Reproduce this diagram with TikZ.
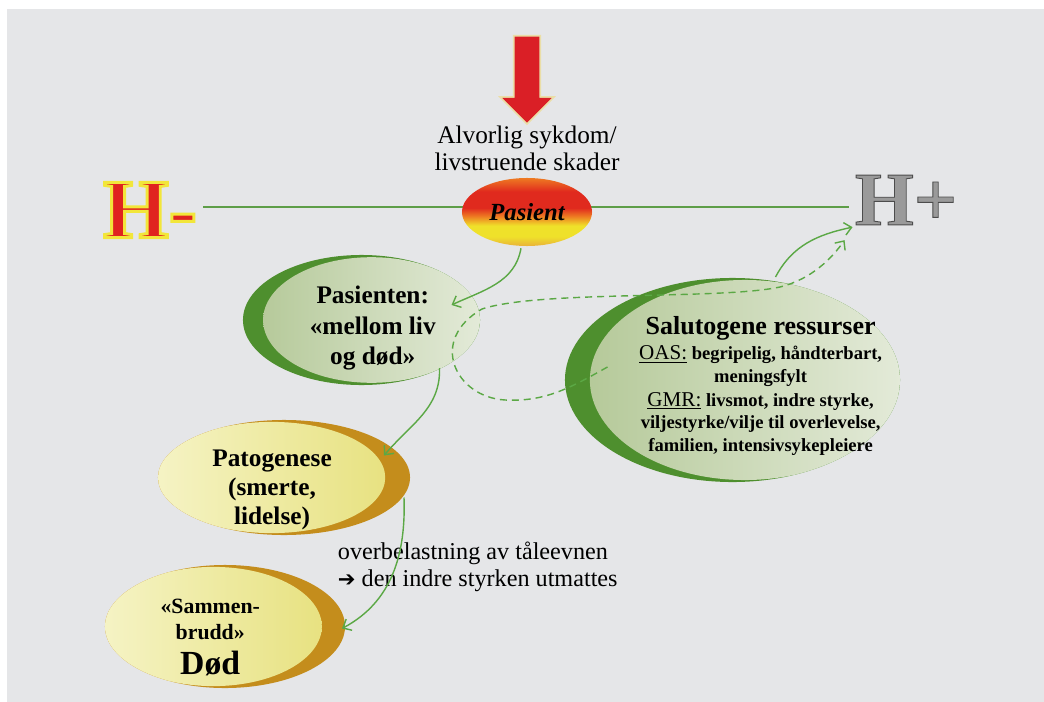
\documentclass[tikz,border=0pt]{standalone}
\usepackage{fontspec}
\setmainfont{Liberation Serif}
\newfontfamily\symfont{DejaVu Sans}
\newfontfamily\hfontA{Liberation Serif}[BoldFeatures={FakeBold=3.5}]
\newfontfamily\hfontB{Liberation Serif}[BoldFeatures={FakeBold=1.2}]
\usetikzlibrary{shapes.geometric,shapes.arrows,arrows.meta,calc}

\definecolor{bgcol}{HTML}{E5E6E8}
\definecolor{flowgreen}{HTML}{5BA845}
\definecolor{axisgreen}{HTML}{5E9E48}
\definecolor{crgreen}{HTML}{4E8F2E}
\definecolor{lgreenA}{HTML}{B2C795}
\definecolor{lgreenB}{HTML}{E3EAD8}
\definecolor{crgold}{HTML}{C48D1C}
\definecolor{lyellowA}{HTML}{F5F3C4}
\definecolor{lyellowB}{HTML}{E6E07A}
\definecolor{hred}{HTML}{E0231F}
\definecolor{hyellow}{HTML}{F2E63A}
\definecolor{hgray}{HTML}{9A9A9A}
\definecolor{pred}{HTML}{E02A1E}
\definecolor{porange}{HTML}{EE7A22}
\definecolor{pyellow}{HTML}{EFE12A}
\definecolor{pgold}{HTML}{E9B23A}
\definecolor{arrowred}{HTML}{DA1F26}

\pgfdeclareverticalshading{pasientfill}{100bp}{color(0bp)=(pgold); color(25bp)=(pgold); color(32bp)=(pyellow); color(40bp)=(pyellow); color(47bp)=(porange); color(53bp)=(pred); color(65bp)=(pred); color(75bp)=(porange); color(100bp)=(porange)}

% text that does not widen the ellipse it sits in
\newcommand{\blobtext}[2]{\makebox[0pt]{\raisebox{#1}[0pt][0pt]{#2}}}

\tikzset{
  flow/.style={draw=flowgreen, line width=1pt, -{Straight Barb[length=5pt,width=9pt]}},
  flowdash/.style={flow, dash pattern=on 5pt off 3.5pt},
  axisline/.style={draw=axisgreen, line width=1pt},
  greenblob/.style n args={3}{ellipse, inner sep=0pt, fill=crgreen,
    path picture={\shade[left color=lgreenA, right color=lgreenB]
      ([xshift=#1]path picture bounding box.center) ellipse[x radius=#2, y radius=#3];}},
  goldblob/.style n args={3}{ellipse, inner sep=0pt, fill=crgold,
    path picture={\shade[left color=lyellowA, right color=lyellowB]
      ([xshift=#1]path picture bounding box.center) ellipse[x radius=#2, y radius=#3];}},
  pasientblob/.style={ellipse, inner sep=0pt, minimum width=3.25cm, minimum height=1.7cm,
    shading=pasientfill, font=\bfseries\itshape\fontsize{17.5}{20}\selectfont},
  redarrow/.style={single arrow, fill=arrowred, inner sep=0.3cm, minimum width=1.225cm,
    single arrow head extend=0.31cm, minimum height=2.15cm, shape border rotate=270,
    preaction={draw=hyellow!80!orange, opacity=.35, line width=2.5pt}},
  bubtext/.style={font=\bfseries\fontsize{18}{21.5}\selectfont},
  plaintext/.style={font=\fontsize{17.2}{19.2}\selectfont}
}

\begin{document}
\begin{tikzpicture}[x=0.025cm, y=-0.025cm]
  \useasboundingbox (0,0) rectangle (1044,702);
  \fill[white] (0,0) rectangle (1044,702);
  \fill[bgcol] (7,9) rectangle (1044,702);

  % H- and H+ at the ends of the axis
  \node[inner sep=0pt, font=\hfontA\bfseries\fontsize{60}{60}\selectfont] (hminus) at (150,210)
    {\pgfsetfillcolor{hred}\pgfsetstrokecolor{hyellow}H-};
  \node[inner sep=0pt, font=\hfontB\bfseries\fontsize{54}{54}\selectfont] (hplus) at (906,200)
    {\pgfsetfillcolor{hgray}\pgfsetstrokecolor{black!70}H+};
  \draw[axisline] ($(hminus.east)+(6,-3)$) -- ($(hplus.west)+(-6,7)$);

  \node[pasientblob] (pasient) at (527,212) {Pasient};
  \node[redarrow, anchor=tip] (hit) at (527,123) {};
  \node[plaintext, align=center, font=\fontsize{18}{19.2}\selectfont] (sykdom) at (527,148)
    {Alvorlig sykdom/\\livstruende skader};

  % bubbles
  \node[greenblob={0.25cm}{2.71cm}{1.57cm}, minimum width=5.925cm, minimum height=3.25cm, bubtext]
    (pas) at (361.5,320)
    {\blobtext{-10pt}{\begin{tabular}{@{\hspace{16pt}}c@{}}Pasienten:\\«mellom liv\\og død»\end{tabular}}};
  \node[greenblob={0.31cm}{3.875cm}{2.5cm}, minimum width=8.375cm, minimum height=5.1cm,
    font=\bfseries\fontsize{13.2}{16}\selectfont] (salu) at (732.5,380)
    {\blobtext{-8pt}{\begin{tabular}{@{\hspace{40pt}}c@{}}
      {\fontsize{18.5}{22}\selectfont Salutogene ressurser}\\[2pt]
      {\fontsize{15}{15}\selectfont\mdseries\underline{OAS:}} begripelig, håndterbart,\\
      meningsfylt\\[1pt]
      {\fontsize{15}{15}\selectfont\mdseries\underline{GMR:}} livsmot, indre styrke,\\
      viljestyrke/vilje til overlevelse,\\
      familien, intensivsykepleiere
    \end{tabular}}};
  \node[goldblob={-0.31cm}{2.84cm}{1.39cm}, minimum width=6.3cm, minimum height=2.875cm,
    font=\bfseries\fontsize{18}{20.5}\selectfont] (pato) at (284,477.5)
    {\blobtext{-13pt}{\begin{tabular}{@{}c@{\hspace{17pt}}}Patogenese\\(smerte,\\lidelse)\end{tabular}}};
  \node[goldblob={-0.29cm}{2.71cm}{1.49cm}, minimum width=6cm, minimum height=3.075cm,
    font=\bfseries\fontsize{15.5}{19}\selectfont] (samm) at (225,626.5)
    {\blobtext{-12pt}{\begin{tabular}{@{}c@{\hspace{21pt}}}«Sammen-\\brudd»\\[2pt]{\fontsize{24}{24}\selectfont Død}\end{tabular}}};

  \node[plaintext, align=left, anchor=west] (belast) at (333,567)
    {overbelastning av tåleevnen\\{\symfont\bfseries\fontsize{15}{15}\selectfont ➔} den indre styrken utmattes};

  % connectors
  \coordinate (dstart) at ($(salu.center)+(-125,-13)$);
  \draw[flow] ($(pasient.south)+(-6,2)$) to[out=-100,in=25] ($(pas.center)+(90,-15)$);
  \draw[flow] ($(pas.center)+(78,48)$) to[out=-88,in=50] ($(pato.center)+(100,-22)$);
  \draw[flow] ($(pato.center)+(120,20)$) to[out=-88,in=28] ($(samm.center)+(117,2)$);
  \draw[flow] ($(salu.center)+(43,-103)$) to[out=62,in=192] ($(hplus.south west)+(-2,2)$);
  \draw[flowdash] (dstart) .. controls (570,388) and (545,402) .. (505,400)
    .. controls (455,397) and (428,340) .. (482,309)
    .. controls (540,290) and (720,300) .. (780,287)
    .. controls (812,279) and (832,258) .. ($(hplus.south west)+(-10,15)$);
\end{tikzpicture}
\end{document}
